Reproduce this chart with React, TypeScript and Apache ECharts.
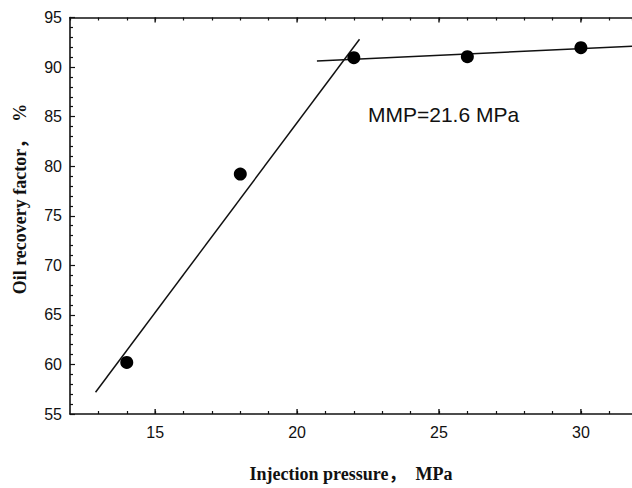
import React, { useEffect, useRef } from "react";
import * as echarts from "echarts";

const pressure = [14, 18, 22, 26, 30];
const recovery = [60.2, 79.2, 90.95, 91.05, 91.95];
const steepLine = [[12.9, 57.2], [22.2, 92.8]];
const flatLine = [[20.7, 90.6], [31.8, 92.1]];
const majorXTicks = [15, 20, 25, 30];
const annotation = "MMP=21.6 MPa";
const xTitle = "Injection pressure，  MPa";
const yTitle = "Oil recovery factor，  %";

const X_MIN = 12;
const X_MAX = 31.8;
const Y_MIN = 55;
const Y_MAX = 95;

export default function App() {
  const ref = useRef<HTMLDivElement>(null);
  useEffect(() => {
    if (!ref.current) return;
    const chart = echarts.init(ref.current, undefined, { renderer: "svg" });
    const sans = "'Liberation Sans', Arial, sans-serif";
    const serif = "'Liberation Serif', 'Times New Roman', 'Noto Sans CJK SC', serif";
    const axisLine = { show: true, lineStyle: { color: "#111", width: 1.6 } };
    chart.setOption({
      animation: false,
      backgroundColor: "#fff",
      grid: { left: 70, right: 0, top: 17.5, bottom: 61.3, containLabel: false },
      xAxis: [
        {
          type: "value",
          min: X_MIN,
          max: X_MAX,
          interval: 1,
          axisLine,
          axisTick: { show: true, inside: true, length: 3, lineStyle: { color: "#111", width: 1.2 } },
          axisLabel: {
            fontFamily: sans,
            fontSize: 16,
            color: "#111",
            margin: 10,
            showMinLabel: false,
            showMaxLabel: false,
            formatter: (v: number) => (Math.abs(v % 5) < 1e-6 ? String(v) : ""),
          },
          splitLine: { show: false },
          name: xTitle,
          nameLocation: "middle",
          nameGap: 51,
          nameTextStyle: { fontFamily: serif, fontWeight: "bold", fontSize: 18, color: "#111" },
        },
        {
          type: "value",
          position: "top",
          min: X_MIN,
          max: X_MAX,
          interval: 1,
          axisLine,
          axisTick: { show: true, inside: true, length: 3, lineStyle: { color: "#111", width: 1.2 } },
          axisLabel: { show: false },
          splitLine: { show: false },
        },
      ],
      yAxis: {
        type: "value",
        min: Y_MIN,
        max: Y_MAX,
        interval: 5,
        axisLine,
        axisTick: { show: true, inside: true, length: 5, lineStyle: { color: "#111", width: 1.2 } },
        minorTick: { show: true, splitNumber: 5, length: 3, lineStyle: { color: "#111", width: 1.2 } },
        axisLabel: { fontFamily: sans, fontSize: 16, color: "#111", margin: 8 },
        splitLine: { show: false },
      },
      graphic: [
        {
          type: "text",
          left: 368,
          top: 104,
          style: { text: annotation, fontFamily: sans, fontSize: 21, fill: "#111" },
        },
        {
          type: "text",
          x: 20,
          y: 199,
          rotation: Math.PI / 2,
          style: {
            text: yTitle,
            fontFamily: serif,
            fontWeight: "bold",
            fontSize: 18,
            fill: "#111",
            align: "center",
            verticalAlign: "middle",
          },
        },
      ],
      series: [
        {
          type: "line",
          data: steepLine,
          symbol: "none",
          lineStyle: { color: "#111", width: 1.5 },
          silent: true,
          z: 2,
        },
        {
          type: "line",
          data: flatLine,
          symbol: "none",
          lineStyle: { color: "#111", width: 1.5 },
          silent: true,
          z: 2,
        },
        {
          type: "scatter",
          data: pressure.map((p, i) => [p, recovery[i]]),
          symbol: "circle",
          symbolSize: 13,
          itemStyle: { color: "#000", opacity: 1 },
          z: 3,
        },
        {
          type: "scatter",
          data: majorXTicks.map((t) => [t, Y_MIN]),
          symbol: "rect",
          symbolSize: [1.4, 5],
          symbolOffset: [0, -2.5],
          itemStyle: { color: "#111", opacity: 1 },
          silent: true,
          z: 4,
        },
        {
          type: "scatter",
          data: majorXTicks.map((t) => [t, Y_MAX]),
          symbol: "rect",
          symbolSize: [1.4, 5],
          symbolOffset: [0, 2.5],
          itemStyle: { color: "#111", opacity: 1 },
          silent: true,
          z: 4,
        },
      ],
    });
    return () => chart.dispose();
  }, []);
  return <div ref={ref} style={{ width: 632, height: 488, position: "absolute", left: 0, top: 0 }} />;
}
